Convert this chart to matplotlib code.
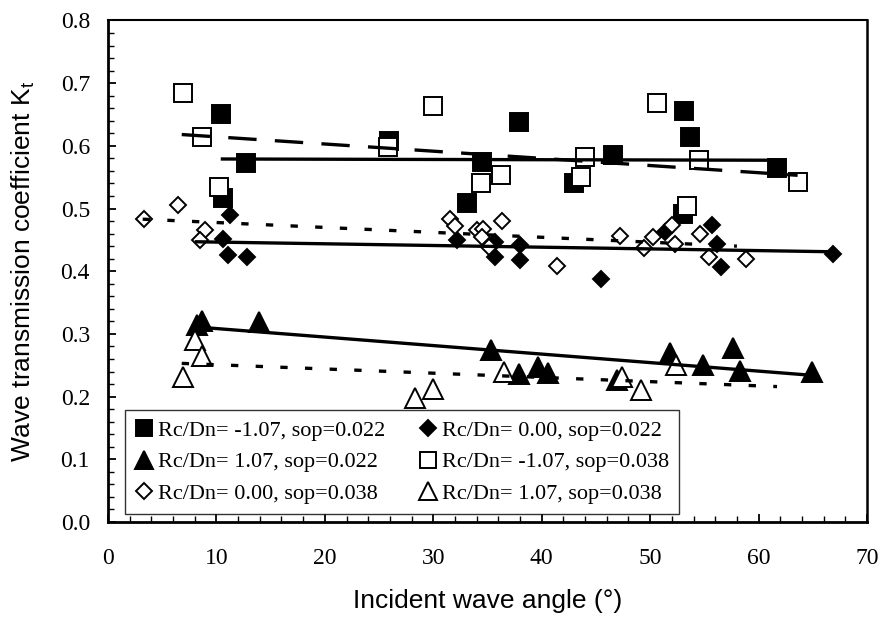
import numpy as np
import matplotlib
matplotlib.use("Agg")
from matplotlib import pyplot as plt
from matplotlib.ticker import MultipleLocator, FormatStrFormatter

# Rc/Dn = -1.07, sop = 0.022 (filled squares)
sq22_x = [10.45, 12.7, 10.6, 25.95, 33.1, 34.5, 37.9, 46.6, 43.0, 53.1, 53.7, 53.0, 61.7]
sq22_y = [0.650, 0.573, 0.516, 0.608, 0.509, 0.574, 0.638, 0.585, 0.541, 0.655, 0.614, 0.491, 0.565]

# Rc/Dn = 0.00, sop = 0.022 (filled diamonds)
di22_x = [11.25, 10.6, 11.1, 12.85, 32.2, 35.7, 35.7, 38.0, 38.0, 45.5, 51.4, 55.7, 56.2, 56.5, 66.9]
di22_y = [0.490, 0.451, 0.426, 0.423, 0.450, 0.447, 0.423, 0.442, 0.418, 0.387, 0.463, 0.474, 0.444, 0.407, 0.427]

# Rc/Dn = 1.07, sop = 0.022 (filled triangles)
tr22_x = [8.2, 8.65, 13.9, 35.3, 37.9, 39.7, 40.6, 46.9, 51.8, 54.9, 57.6, 58.3, 64.9]
tr22_y = [0.314, 0.321, 0.319, 0.275, 0.236, 0.248, 0.237, 0.226, 0.270, 0.250, 0.277, 0.241, 0.239]

# Rc/Dn = -1.07, sop = 0.038 (open squares)
sq38_x = [6.9, 8.67, 10.24, 25.8, 30.0, 34.4, 36.2, 43.6, 44.0, 50.6, 54.5, 53.4, 63.6]
sq38_y = [0.685, 0.614, 0.535, 0.598, 0.663, 0.541, 0.553, 0.551, 0.582, 0.668, 0.578, 0.504, 0.543]

# Rc/Dn = 0.00, sop = 0.038 (open diamonds)
di38_x = [3.3, 6.5, 8.95, 8.5, 31.5, 32.0, 34.0, 34.6, 34.5, 35.1, 36.3, 41.4, 47.2,
          49.4, 50.3, 52.0, 52.3, 54.6, 55.4, 58.8]
di38_y = [0.484, 0.506, 0.466, 0.449, 0.484, 0.472, 0.466, 0.468, 0.455, 0.439, 0.480, 0.408, 0.456,
          0.437, 0.455, 0.474, 0.444, 0.460, 0.422, 0.419]

# Rc/Dn = 1.07, sop = 0.038 (open triangles)
tr38_x = [6.95, 8.0, 8.65, 28.3, 30.0, 36.5, 47.4, 49.2, 52.4]
tr38_y = [0.232, 0.291, 0.265, 0.197, 0.212, 0.240, 0.232, 0.210, 0.250]

# linear trend lines: x range and y at both ends
trend_x0 = [10.4, 8.0, 8.2, 6.8, 3.2, 6.8]
trend_x1 = [61.7, 66.9, 64.9, 63.6, 58.0, 61.7]
trend_y0 = [0.579, 0.447, 0.311, 0.618, 0.483, 0.253]
trend_y1 = [0.577, 0.431, 0.234, 0.553, 0.440, 0.216]

labels = ['Rc/Dn= -1.07, sop=0.022', 'Rc/Dn= 0.00, sop=0.022', 'Rc/Dn= 1.07, sop=0.022',
          'Rc/Dn= -1.07, sop=0.038', 'Rc/Dn= 0.00, sop=0.038', 'Rc/Dn= 1.07, sop=0.038']

fig = plt.figure(figsize=(8.83, 6.19), dpi=100)
ax = fig.add_axes([0.1223, 0.1567, 0.8596, 0.8103])

serif = 'Liberation Serif'
sans = 'Liberation Sans'

series = [(sq22_x, sq22_y, 's', 12.5, 'black'),
          (di22_x, di22_y, 'D', 8.5, 'black'),
          (tr22_x, tr22_y, '^', 14, 'black'),
          (sq38_x, sq38_y, 's', 12.5, 'white'),
          (di38_x, di38_y, 'D', 8.5, 'white'),
          (tr38_x, tr38_y, '^', 14, 'white')]

handles = []
for (xs, ys, mk, ms, fc), lab in zip(series, labels):
    h, = ax.plot(xs, ys, ls='none', marker=mk, ms=ms, mfc=fc, mec='black', mew=1.4,
                 label=lab, zorder=3)
    handles.append(h)

# trend line styles: solid for sop=0.022, long dash / short dash for sop=0.038
styles = [None, None, None, (0, (8.5, 5.5)), (0, (2.2, 5.2)), (0, (2.2, 5.2))]
for i in range(6):
    xs = [trend_x0[i], trend_x1[i]]
    ys = [trend_y0[i], trend_y1[i]]
    if styles[i] is None:
        ax.plot(xs, ys, color='black', lw=2.4, solid_capstyle='butt', zorder=4)
    else:
        ax.plot(xs, ys, color='black', lw=2.4, ls=styles[i], dash_capstyle='butt', zorder=4)

ax.set_xlim(0, 70)
ax.set_ylim(0, 0.8)
ax.xaxis.set_major_locator(MultipleLocator(10))
ax.xaxis.set_minor_locator(MultipleLocator(2))
ax.yaxis.set_major_locator(MultipleLocator(0.1))
ax.yaxis.set_minor_locator(MultipleLocator(0.02))
ax.yaxis.set_major_formatter(FormatStrFormatter('%.1f'))
ax.tick_params(which='major', direction='in', length=6, width=1.3, labelsize=17)
ax.tick_params(which='minor', direction='in', length=4, width=1.0)
ax.tick_params(axis='x', which='major', pad=19)
ax.tick_params(axis='y', which='major', pad=13)
for lab in ax.get_xticklabels() + ax.get_yticklabels():
    lab.set_fontfamily(serif)

ax.spines['left'].set_linewidth(2.0)
ax.spines['bottom'].set_linewidth(2.0)
ax.spines['top'].set_linewidth(1.5)
ax.spines['right'].set_linewidth(1.8)

ax.set_xlabel('Incident wave angle (°)', fontfamily=sans, fontsize=19, labelpad=14)
ax.set_ylabel('Wave transmission coefficient K$_\\mathregular{t}$', fontfamily=sans,
              fontsize=19, labelpad=17)

order = [0, 2, 4, 1, 3, 5]
leg = ax.legend([handles[i] for i in order], [labels[i] for i in order], ncol=2,
                loc='lower left', bbox_to_anchor=(0.0224, 0.016), borderaxespad=0,
                prop={'family': serif, 'size': 16}, frameon=True, fancybox=False,
                handlelength=0.8, handletextpad=0.25, columnspacing=1.5, labelspacing=0.5,
                borderpad=0.45, markerscale=0.9)
leg.get_frame().set_edgecolor('black')
leg.get_frame().set_linewidth(1.0)
leg.set_zorder(5)

fig.savefig('out.png', dpi=100)
